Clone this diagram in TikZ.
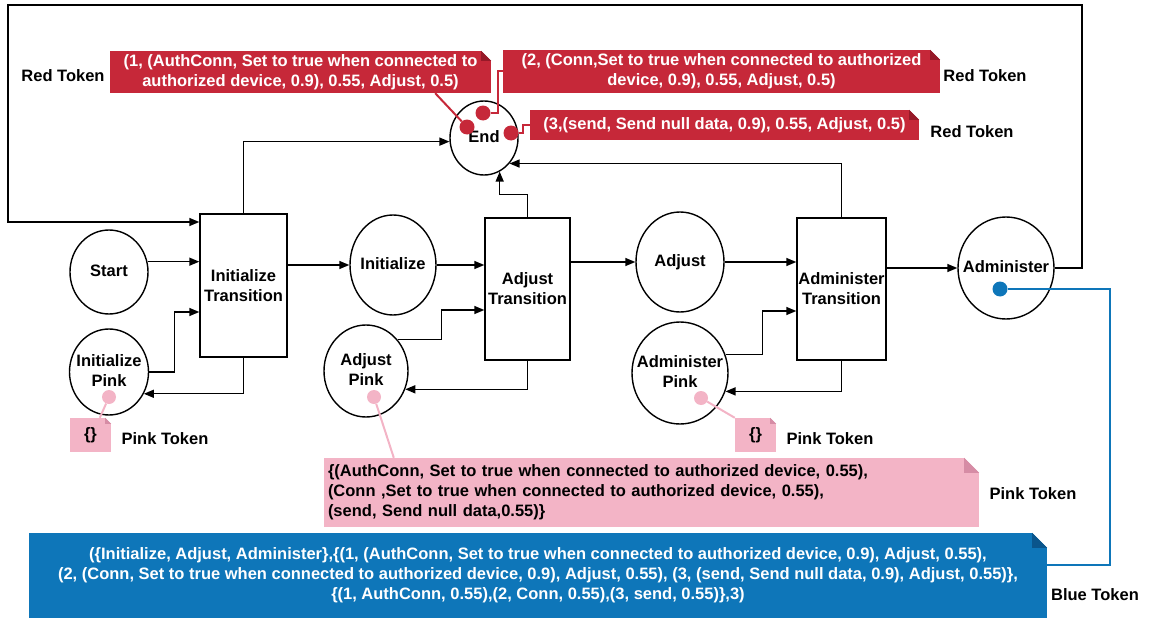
\documentclass[tikz,border=0pt]{standalone}
\usepackage{fontspec}
\setmainfont{Liberation Sans}
\usetikzlibrary{arrows.meta,calc,shapes.geometric}
\definecolor{tokred}{RGB}{198,40,57}
\definecolor{tokreddark}{RGB}{150,25,40}
\definecolor{tokpink}{RGB}{243,180,198}
\definecolor{tokpinkdark}{RGB}{214,140,165}
\definecolor{tokblue}{RGB}{14,118,185}
\definecolor{tokbluedark}{RGB}{10,85,140}
\newcommand\dogear[3]{%
  \fill[white] (#1.north east) -- ($(#1.north east)+(-#3,0)$) -- ($(#1.north east)+(0,#3)$) -- cycle;
  \fill[#2] ($(#1.north east)+(-#3,0)$) -- ($(#1.north east)+(-#3,#3)$) -- ($(#1.north east)+(0,#3)$) -- cycle;}
\newcommand\zb[1]{\makebox[0pt]{\begin{tabular}{@{}c@{}}#1\end{tabular}}}
\begin{document}
\begin{tikzpicture}[x=1pt,y=-1pt,
  lab/.style={font=\fontsize{16.5}{20}\selectfont\bfseries},
  place/.style={lab,draw=black,line width=1.4pt,ellipse,inner sep=0pt,align=center},
  trans/.style={lab,draw=black,line width=1.4pt,rectangle,inner sep=0pt,align=center},
  arr/.style={-{Triangle[length=10pt,width=8pt]},line width=1.4pt},
  redbox/.style={lab,fill=tokred,text=white,inner sep=0pt,align=center},
  reddot/.style={circle,fill=tokred,inner sep=0pt,minimum size=15pt},
  redline/.style={draw=tokred,line width=2pt},
  pinkbox/.style={lab,fill=tokpink,text=black,inner sep=0pt},
  pinkdot/.style={circle,fill=tokpink,inner sep=0pt,minimum size=14pt},
  pinkline/.style={draw=tokpink,line width=2pt},
  bluebox/.style={lab,fill=tokblue,text=white,inner sep=0pt,align=center},
  bluedot/.style={circle,fill=tokblue,inner sep=0pt,minimum size=15pt},
  blueline/.style={draw=tokblue,line width=2pt}]
\useasboundingbox (0,0) rectangle (1149,618);

% places and transitions
\node[place,minimum width=78,minimum height=84] (Start) at (109,272) {\zb{Start}};
\node[place,minimum width=79,minimum height=86] (IP) at (109,372) {\zb{Initialize\\Pink}};
\node[trans,minimum width=87,minimum height=143] (IT) at (243.5,285.5) {Initialize\\Transition};
\node[place,minimum width=86,minimum height=100] (Init) at (393,265) {\zb{Initialize}};
\node[place,minimum width=84,minimum height=92] (AP) at (366,371) {\zb{Adjust\\Pink}};
\node[trans,minimum width=85,minimum height=142] (AdjT) at (527.5,289) {Adjust\\Transition};
\node[place,minimum width=88,minimum height=100] (Adj) at (680,262) {\zb{Adjust}};
\node[place,minimum width=96,minimum height=102] (AdP) at (680,373) {\zb{Administer\\Pink}};
\node[trans,minimum width=89,minimum height=142] (AdmT) at (841.5,289) {Administer\\Transition};
\node[place,minimum width=96,minimum height=102] (Adm) at (1006,268) {\zb{Administer}};
\node[place,minimum width=68,minimum height=74] (End) at (484,138) {\zb{End}};

% black connectors
\coordinate (tr) at (1082,5);
\coordinate (tl) at (8,5);
\coordinate (ll) at (8,222);
\draw[arr] (Adm.east) -| (tr) -- (tl) -- (ll) -- (ll -| IT.west);
\draw[arr] (IT.north) |- (End.186);
\draw[arr] (AdmT.north) |- (End.-45);
\draw[arr] (AdjT.north) -- ++(0,-23) -| (End.-65);
\draw[arr] (Start.15) -- (Start.15 -| IT.west);
\draw[arr] (IP.east) -- ++(25,0) |- ($(IT.west)+(0,26.5)$);
\draw[arr] (IT.south) |- (IP.-32);
\draw[arr] (IT.east |- Init.west) -- (Init.west);
\draw[arr] (Init.east) -- (Init.east -| AdjT.west);
\draw[arr] (AP.45) -- ++(44,0) |- ($(AdjT.west)+(0,21)$);
\draw[arr] (AdjT.south) |- (AP.-25);
\draw[arr] (AdjT.east |- Adj.west) -- (Adj.west);
\draw[arr] (Adj.east) -- (Adj.east -| AdmT.west);
\draw[arr] (AdP.22) -- ++(37,0) |- ($(AdmT.west)+(0,22)$);
\draw[arr] (AdmT.south) |- (AdP.-22);
\draw[arr] (AdmT.east |- Adm.west) -- (Adm.west);

% red tokens
\node[redbox,minimum width=381,minimum height=42] (R1) at (300.5,72) {(1, (AuthConn, Set to true when connected to\\authorized device, 0.9), 0.55, Adjust, 0.5)};
\node[redbox,minimum width=437,minimum height=43] (R2) at (721.5,71.5) {(2, (Conn,Set to true when connected to authorized\\device, 0.9), 0.55, Adjust, 0.5)};
\node[redbox,minimum width=389,minimum height=30] (R3) at (724.5,125) {(3,(send, Send null data, 0.9), 0.55, Adjust, 0.5)};
\dogear{R1}{tokreddark}{10}
\dogear{R2}{tokreddark}{10}
\dogear{R3}{tokreddark}{10}
\node[reddot] (d1) at (467,127) {};
\node[reddot] (d2) at (483,113) {};
\node[reddot] (d3) at (511,133) {};
\draw[redline] (d1) -- ($(R1.south east)+(-56,0)$);
\draw[redline] (d2.east) -- ++(7,0) |- (R2.west);
\draw[redline] (d3.east) -- ++(4,0) |- (R3.west);
\node[lab] (rt1) at (63,76) {Red Token};
\node[lab] (rt2) at (985,76) {Red Token};
\node[lab] (rt3) at (972,132) {Red Token};

% pink tokens
\node[pinkbox,minimum width=41,minimum height=34] (P1) at (90.5,435) {\{\}};
\node[pinkbox,minimum width=41,minimum height=34] (P2) at (755.5,435) {\{\}};
\dogear{P1}{tokpinkdark}{6}
\dogear{P2}{tokpinkdark}{6}
\node[pinkbox,text width=647,inner xsep=4pt,minimum height=69,align=left] (PB) at (651.5,492.5)
  {\{(AuthConn, Set to true when connected to authorized device, 0.55),\\(Conn ,Set to true when connected to authorized device, 0.55),\\(send, Send null data,0.55)\}};
\dogear{PB}{tokpinkdark}{15}
\node[pinkdot] (pd1) at (109,397) {};
\node[pinkdot] (pd2) at (374,397) {};
\node[pinkdot] (pd3) at (701,398) {};
\draw[pinkline] (pd1) -- ($(P1.north west)+(30,0)$);
\draw[pinkline] (pd2) -- ($(PB.north west)+(70,0)$);
\draw[pinkline] (pd3) -- (P2.north west);
\node[lab] (pt1) at (165,439) {Pink Token};
\node[lab] (pt2) at (830,439) {Pink Token};
\node[lab] (pt3) at (1033,494) {Pink Token};

% blue token
\node[bluebox,minimum width=1018,minimum height=85] (BB) at (538,575.5)
  {(\{Initialize, Adjust, Administer\},\{(1, (AuthConn, Set to true when connected to authorized device, 0.9), Adjust, 0.55),\\(2, (Conn, Set to true when connected to authorized device, 0.9), Adjust, 0.55), (3, (send, Send null data, 0.9), Adjust, 0.55)\},\\\{(1, AuthConn, 0.55),(2, Conn, 0.55),(3, send, 0.55)\},3)};
\dogear{BB}{tokbluedark}{15}
\node[bluedot] (bd) at (1000,289) {};
\draw[blueline] (bd.east) -- ++(102,0) |- ($(BB.east)+(0,-10.5)$);
\node[lab] (bt) at (1095,595) {Blue Token};
\end{tikzpicture}
\end{document}
